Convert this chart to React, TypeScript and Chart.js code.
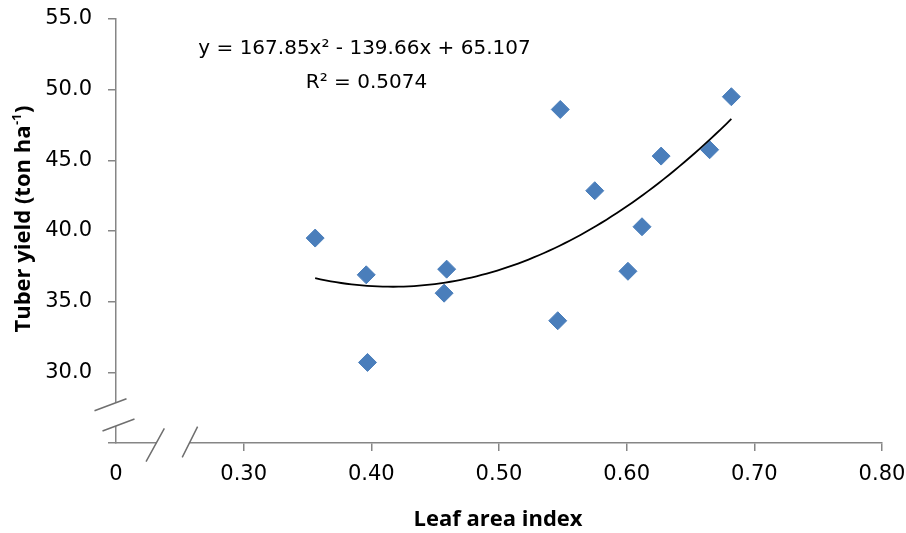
import { useEffect, useRef } from 'react';
import { Chart, registerables } from 'chart.js';

Chart.register(...registerables);

// values
const leafAreaIndex = [0.356, 0.396, 0.397, 0.457, 0.459, 0.546, 0.548, 0.575, 0.601, 0.612, 0.627, 0.665, 0.682];
const tuberYield = [39.5, 36.9, 30.7, 35.6, 37.3, 33.65, 48.6, 42.85, 37.15, 40.3, 45.3, 45.75, 49.5];

const xTickLabels = ['0', '0.30', '0.40', '0.50', '0.60', '0.70', '0.80'];
const yTickLabels = ['', '30.0', '35.0', '40.0', '45.0', '50.0', '55.0'];

// polynomial trendline as printed on the chart (a*x^2 + b*x + c)
const trendCoeffs = [167.85, -139.66, 65.107];
const trendLabel = 'y = 167.85x² - 139.66x + 65.107';
const r2Label = 'R² = 0.5074';

const xTitle = 'Leaf area index';
const yTitle = 'Tuber yield (ton ha';
const yTitleSup = '-1';

const AXIS_GREY = '#868686';
const BREAK_GREY = '#6f6f6f';

const xs = leafAreaIndex;
const xMin = Math.min(...xs);
const xMax = Math.max(...xs);
const trendPoints = Array.from({ length: 81 }, (_, i) => {
  const xv = xMin + ((xMax - xMin) * i) / 80;
  const [a, b, c] = trendCoeffs;
  return { x: xv, y: a * xv * xv + b * xv + c };
});

// no extra room for overhanging tick labels, the layout padding decides the plot box
const noScalePadding = (s: any) => {
  s.paddingTop = 0;
  s.paddingBottom = 0;
  s.paddingLeft = 0;
  s.paddingRight = 0;
};

// axis breaks + text labels
const extrasPlugin = {
  id: 'extras',
  afterDraw(chart: any) {
    const { ctx } = chart;
    const x = chart.scales.x;
    const y = chart.scales.y;
    const ax = chart.chartArea.left;
    const ay = chart.chartArea.bottom;
    ctx.save();

    // y axis break
    const yTop = y.getPixelForValue(27.85);
    const yBot = y.getPixelForValue(26.2);
    ctx.fillStyle = '#ffffff';
    ctx.fillRect(ax - 3, yTop, 6, yBot - yTop);
    // x axis break
    const xl = x.getPixelForValue(0.2316);
    const xr = x.getPixelForValue(0.2575);
    ctx.fillRect(xl, ay - 3, xr - xl, 6);

    ctx.strokeStyle = BREAK_GREY;
    ctx.lineWidth = 1.5;
    ctx.beginPath();
    ctx.moveTo(ax - 21.5, yTop + 8);
    ctx.lineTo(ax + 10.5, yTop - 4);
    ctx.moveTo(ax - 13.5, yBot + 5);
    ctx.lineTo(ax + 18.5, yBot - 7);
    ctx.moveTo(xl - 10.3, ay + 18.7);
    ctx.lineTo(xl + 8, ay - 14.7);
    ctx.moveTo(xr - 7.2, ay + 14.3);
    ctx.lineTo(xr + 8.2, ay - 16.3);
    ctx.stroke();

    // trendline equation
    ctx.fillStyle = '#000';
    ctx.textAlign = 'center';
    ctx.textBaseline = 'alphabetic';
    ctx.font = '20px "DejaVu Sans"';
    ctx.fillText(trendLabel, 364.5, 54);
    ctx.fillText(r2Label, 366.5, 88);

    // x title
    ctx.font = 'bold 22px "Open Sans"';
    ctx.fillText(xTitle, 498, 525.5);

    // y title with superscript
    ctx.translate(29.5, 219.5);
    ctx.rotate(-Math.PI / 2);
    ctx.textAlign = 'left';
    ctx.font = 'bold 22px "Open Sans"';
    const wMain = ctx.measureText(yTitle).width;
    const wClose = ctx.measureText(')').width;
    ctx.font = 'bold 13px "Open Sans"';
    const wSup = ctx.measureText(yTitleSup).width;
    const start = -(wMain + wSup + wClose) / 2;
    ctx.font = 'bold 22px "Open Sans"';
    ctx.fillText(yTitle, start, 0);
    ctx.fillText(')', start + wMain + wSup + 1, 0);
    ctx.font = 'bold 13px "Open Sans"';
    ctx.fillText(yTitleSup, start + wMain + 0.5, -9);

    ctx.restore();
  },
};

export default function App() {
  const canvasRef = useRef<HTMLCanvasElement>(null);
  const chartRef = useRef<Chart | null>(null);

  useEffect(() => {
    document.body.style.margin = '0';
    if (!canvasRef.current) return;
    const ctx = canvasRef.current.getContext('2d');
    if (!ctx) return;

    if (chartRef.current) chartRef.current.destroy();

    const tickFont = { family: 'DejaVu Sans', size: 21 };

    chartRef.current = new Chart(ctx, {
      type: 'scatter',
      data: {
        datasets: [
          {
            label: 'Tuber yield',
            data: xs.map((xv, i) => ({ x: xv, y: tuberYield[i] })),
            pointStyle: 'rectRot',
            pointRadius: 9,
            backgroundColor: '#4A7EBB',
            borderColor: '#4A7EBB',
            borderWidth: 1,
            order: 1,
          },
          {
            label: 'Poly. trend',
            data: trendPoints,
            showLine: true,
            pointRadius: 0,
            borderColor: '#000000',
            borderWidth: 1.8,
            tension: 0,
            order: 0,
          },
        ],
      },
      options: {
        responsive: false,
        animation: false,
        layout: { padding: { top: 19, right: 24, left: 0, bottom: 0 } },
        plugins: { legend: { display: false }, tooltip: { enabled: false } },
        scales: {
          x: {
            type: 'linear',
            min: 0.2,
            max: 0.8,
            afterFit: (s: any) => { s.height = 90; noScalePadding(s); },
            ticks: {
              stepSize: 0.1,
              font: tickFont,
              color: '#000',
              padding: 11,
              maxRotation: 0,
              autoSkip: false,
              callback: (_v: any, i: number) => xTickLabels[i],
            },
            grid: {
              drawOnChartArea: false,
              drawTicks: true,
              tickLength: 8,
              lineWidth: 1.5,
              color: (c: any) => (c.index === 0 ? 'rgba(0,0,0,0)' : AXIS_GREY),
            },
            border: { display: true, color: AXIS_GREY, width: 1.5 },
          },
          y: {
            type: 'linear',
            min: 25,
            max: 55,
            afterFit: (s: any) => { s.width = 116; noScalePadding(s); },
            ticks: {
              stepSize: 5,
              font: tickFont,
              color: '#000',
              padding: 16,
              autoSkip: false,
              callback: (_v: any, i: number) => yTickLabels[i],
            },
            grid: {
              drawOnChartArea: false,
              drawTicks: true,
              tickLength: 8,
              lineWidth: 1.5,
              color: AXIS_GREY,
            },
            border: { display: true, color: AXIS_GREY, width: 1.5 },
          },
        },
      },
      plugins: [extrasPlugin],
    });

    return () => {
      if (chartRef.current) {
        chartRef.current.destroy();
        chartRef.current = null;
      }
    };
  }, []);

  return (
    <div style={{ width: 906, height: 533, background: '#fff' }}>
      <canvas ref={canvasRef} width={906} height={533} />
    </div>
  );
}
